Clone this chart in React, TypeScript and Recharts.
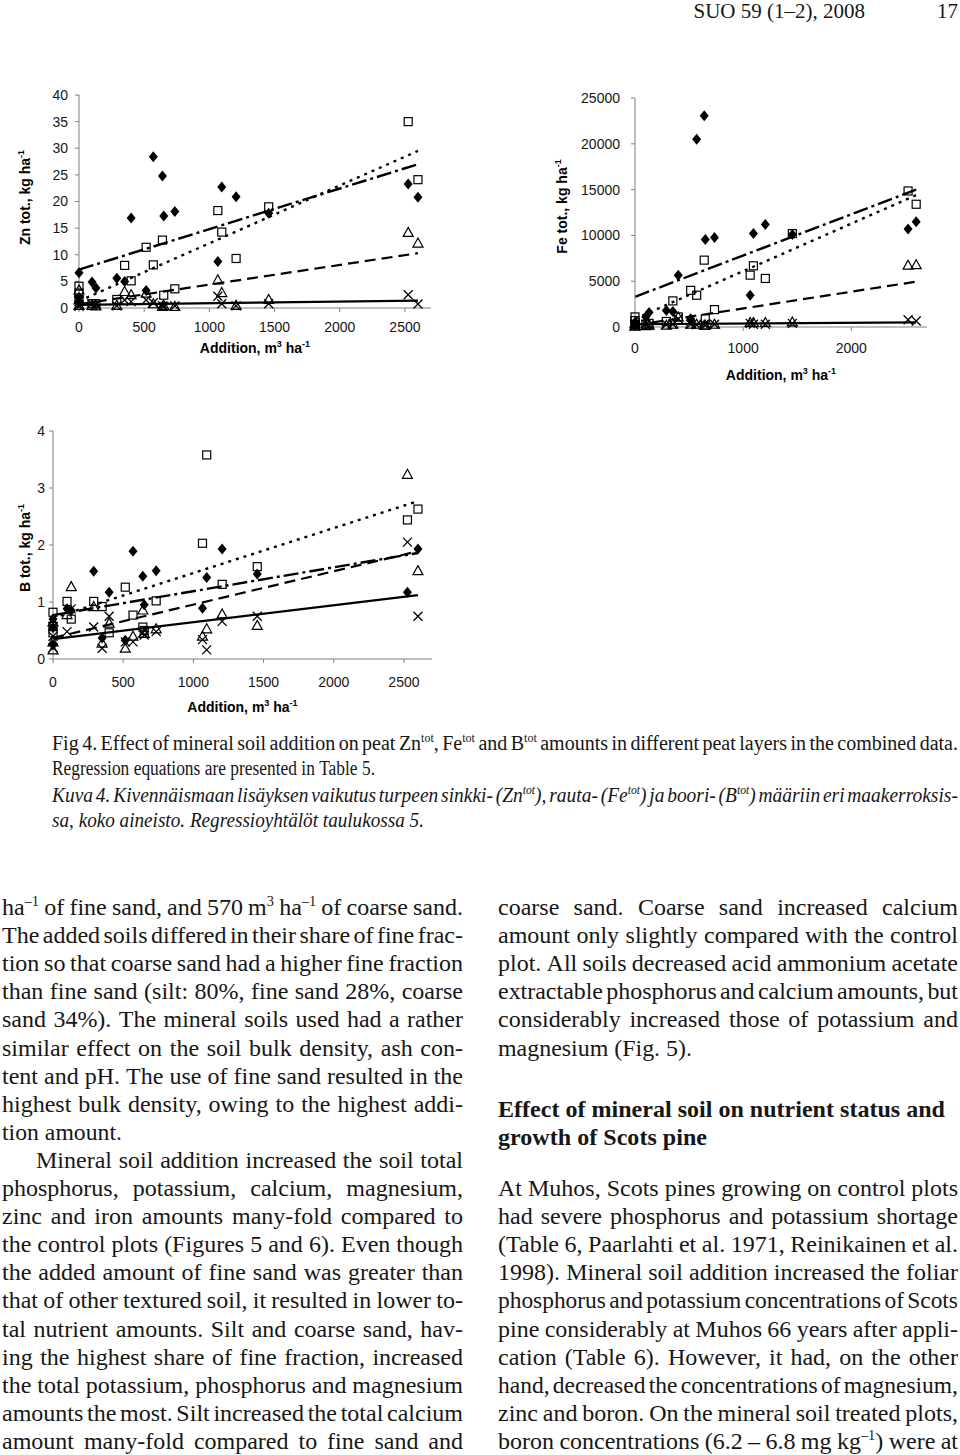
import React from "react";
import { ScatterChart, Scatter, XAxis, YAxis, ReferenceLine, Label } from "recharts";

// addition of mineral soil on each plot, m3/ha (three control plots at 0)
const sites = [0, 0, 0, 100, 130, 290, 350, 400, 515, 570, 640, 650, 735, 1065, 1095, 1205, 1455, 2525, 2600];

// Zn tot., kg/ha, one value per plot
const znDiamond = [6.6, 2.0, 1.0, 4.9, 3.75, 5.6, 5.0, 16.9, 3.3, 28.4, 24.8, 17.3, 18.1, 8.75, 22.7, 20.9, 17.8, 23.3, 20.8];
const znSquare = [4.1, 2.8, 1.6, 0.8, 0.8, 1.6, 8.0, 5.1, 11.4, 8.1, 12.75, 2.4, 3.6, 18.3, 14.25, 9.3, 19.0, 35.0, 24.1];
const znTriangle = [3.4, 1.5, 0.5, 0.5, 0.4, 0.5, 3.1, 2.5, 2.8, 0.8, 0.3, 0.5, 0.3, 5.3, 2.9, 0.5, 1.6, 14.2, 12.2];
const znCross = [1.2, 0.3, 0.6, 0.8, 0.6, 0.4, 1.5, 1.2, 1.5, 1.0, 0.4, 0.3, 0.4, 2.2, 0.8, 0.4, 0.8, 2.5, 0.75];

// Fe tot., kg/ha
const feDiamond = [500, 300, 200, 1100, 1570, 1800, 1700, 5660, 900, 20500, 23070, 9560, 9780, 3470, 10200, 11200, 10100, 10700, 11500];
const feSquare = [1100, 700, 300, 300, 400, 600, 2850, 1100, 4000, 3470, 7300, 900, 1900, 5660, 6680, 5300, 10200, 14850, 13400];
const feTriangle = [400, 200, 100, 150, 200, 200, 300, 1100, 300, 300, 200, 200, 300, 500, 500, 500, 550, 6750, 6800];
const feCross = [300, 200, 100, 300, 200, 300, 300, 900, 300, 250, 300, 200, 300, 400, 300, 300, 400, 800, 660];

// B tot., kg/ha
const bDiamond = [0.7, 0.55, 0.25, 0.88, 0.85, 1.54, 0.37, 1.17, 0.33, 1.89, 1.45, 0.95, 1.55, 0.89, 1.43, 1.93, 1.49, 1.17, 1.93];
const bSquare = [0.82, 0.57, 0.46, 1.01, 0.7, 1.01, 0.92, 0.46, 1.26, 0.77, 0.56, 0.5, 1.02, 2.03, 3.58, 1.31, 1.62, 2.44, 2.63];
const bTriangle = [0.16, 0.3, 0.65, 0.78, 1.27, 0.92, 0.28, 0.63, 0.19, 0.4, 0.86, 0.45, 0.53, 0.4, 0.53, 0.79, 0.59, 3.24, 1.55];
const bCross = [0.57, 0.4, 0.2, 0.48, 0.88, 0.56, 0.19, 0.75, 0.3, 0.3, 0.46, 0.42, 0.48, 0.34, 0.16, 0.66, 0.75, 2.05, 0.75];

// regression lines, [x, y] end points
const znFitDiamond = [[0, 7.2], [2600, 27.0]];
const znFitSquare = [[0, 1.3], [2600, 29.5]];
const znFitTriangle = [[0, 0.7], [2600, 10.3]];
const znFitCross = [[0, 0.6], [2600, 1.4]];
const feFitDiamond = [[0, 3300], [2600, 15000]];
const feFitSquare = [[0, 900], [2600, 14400]];
const feFitTriangle = [[0, 200], [2600, 4950]];
const feFitCross = [[0, 300], [2600, 500]];
const bFitDiamond = [[0, 0.77], [2600, 1.86]];
const bFitSquare = [[0, 0.72], [2600, 2.77]];
const bFitTriangle = [[0, 0.37], [2600, 1.89]];
const bFitCross = [[0, 0.35], [2600, 1.12]];

const xTicks = [0, 500, 1000, 1500, 2000, 2500];
const xTicksFe = [0, 1000, 2000];
const znTicks = [0, 5, 10, 15, 20, 25, 30, 35, 40];
const feTicks = [0, 5000, 10000, 15000, 20000, 25000];
const bTicks = [0, 1, 2, 3, 4];

const header = "SUO 59 (1–2), 2008";
const pageNo = "17";

const captionLines = [
  "Fig 4. Effect of mineral soil addition on peat Zn^{tot}, Fe^{tot} and B^{tot} amounts in different peat layers in the combined data.",
  "Regression equations are presented in Table 5.",
  "Kuva 4. Kivennäismaan lisäyksen vaikutus turpeen sinkki- (Zn^{tot}), rauta- (Fe^{tot}) ja boori- (B^{tot}) määriin eri maakerroksis-",
  "sa, koko aineisto. Regressioyhtälöt taulukossa 5.",
];

const leftLines = [
  "ha^{–1} of fine sand, and 570 m^{3} ha^{–1} of coarse sand.",
  "The added soils differed in their share of fine frac-",
  "tion so that coarse sand had a higher fine fraction",
  "than fine sand (silt: 80%, fine sand 28%, coarse",
  "sand 34%). The mineral soils used had a rather",
  "similar effect on the soil bulk density, ash con-",
  "tent and pH. The use of fine sand resulted in the",
  "highest bulk density, owing to the highest addi-",
  "tion amount.",
  "Mineral soil addition increased the soil total",
  "phosphorus, potassium, calcium, magnesium,",
  "zinc and iron amounts many-fold compared to",
  "the control plots (Figures 5 and 6). Even though",
  "the added amount of fine sand was greater than",
  "that of other textured soil, it resulted in lower to-",
  "tal nutrient amounts. Silt and coarse sand, hav-",
  "ing the highest share of fine fraction, increased",
  "the total potassium, phosphorus and magnesium",
  "amounts the most. Silt increased the total calcium",
  "amount many-fold compared to fine sand and",
];

const rightLinesTop = [
  "coarse sand. Coarse sand increased calcium",
  "amount only slightly compared with the control",
  "plot. All soils decreased acid ammonium acetate",
  "extractable phosphorus and calcium amounts, but",
  "considerably increased those of potassium and",
  "magnesium (Fig. 5).",
];

const headingLines = ["Effect of mineral soil on nutrient status and", "growth of Scots pine"];

const rightLinesBottom = [
  "At Muhos, Scots pines growing on control plots",
  "had severe phosphorus and potassium shortage",
  "(Table 6, Paarlahti et al. 1971, Reinikainen et al.",
  "1998). Mineral soil addition increased the foliar",
  "phosphorus and potassium concentrations of Scots",
  "pine considerably at Muhos 66 years after appli-",
  "cation (Table 6). However, it had, on the other",
  "hand, decreased the concentrations of magnesium,",
  "zinc and boron. On the mineral soil treated plots,",
  "boron concentrations (6.2 – 6.8 mg kg^{–1}) were at",
];

const SERIF = '"Liberation Serif", "Times New Roman", serif';
const SANS = '"Liberation Sans", Arial, sans-serif';
const INK = "#161616";

// ---------- text helpers ----------
const ctx = typeof document !== "undefined" ? document.createElement("canvas").getContext("2d") : null;

function textWidth(t: string, size: number, weight: string, italic: boolean) {
  if (!ctx) return t.length * size * 0.45;
  ctx.font = `${italic ? "italic " : ""}${weight} ${size}px "Liberation Serif"`;
  return ctx.measureText(t).width;
}

function splitSup(word: string) {
  const out: { t: string; sup: boolean }[] = [];
  const re = /\^\{([^}]*)\}/g;
  let last = 0;
  let m: RegExpExecArray | null;
  while ((m = re.exec(word))) {
    if (m.index > last) out.push({ t: word.slice(last, m.index), sup: false });
    out.push({ t: m[1], sup: true });
    last = re.lastIndex;
  }
  if (last < word.length) out.push({ t: word.slice(last), sup: false });
  return out;
}

const SUP = 0.6;
const RISE = 0.38;

function wordWidth(w: string, size: number, weight: string, italic: boolean) {
  return splitSup(w).reduce((a, s) => a + textWidth(s.t, s.sup ? size * SUP : size, weight, italic), 0);
}

function TextLine({ x, y, width, text, size, weight = "normal", italic = false, justify = true }: any) {
  const words: string[] = text.split(" ");
  const ws = words.map((w) => wordWidth(w, size, weight, italic));
  const total = ws.reduce((a, b) => a + b, 0);
  const space = textWidth(" ", size, weight, italic);
  let s = 1;
  let gap = space;
  if (justify && words.length > 1) {
    gap = (width - total) / (words.length - 1);
    const minGap = space * 0.55;
    if (gap < minGap) {
      gap = minGap;
      s = (width - minGap * (words.length - 1)) / total;
    }
  } else {
    const natural = total + space * (words.length - 1);
    s = width / natural;
    gap = space * s;
  }
  let cur = x;
  return (
    <g>
      {words.map((w, i) => {
        const px = cur;
        cur += ws[i] * s + gap;
        let raised = false;
        return (
          <text
            key={i}
            transform={`translate(${px.toFixed(2)} ${y}) scale(${s.toFixed(4)} 1)`}
            fontSize={size}
            fontWeight={weight}
            fontStyle={italic ? "italic" : "normal"}
            fontFamily={SERIF}
            fill={INK}
          >
            {splitSup(w).map((sg, j) => {
              if (sg.sup) {
                raised = true;
                return (
                  <tspan key={j} dy={-size * RISE} fontSize={size * SUP}>
                    {sg.t}
                  </tspan>
                );
              }
              const dy = raised ? size * RISE : 0;
              raised = false;
              return (
                <tspan key={j} dy={dy}>
                  {sg.t}
                </tspan>
              );
            })}
          </text>
        );
      })}
    </g>
  );
}

// ---------- markers ----------
const Diamond = (p: any) => (
  <path d={`M${p.cx},${p.cy - 5.5} L${p.cx + 4.5},${p.cy} L${p.cx},${p.cy + 5.5} L${p.cx - 4.5},${p.cy} Z`} fill="#000" />
);
const Square = (p: any) => (
  <rect x={p.cx - 4} y={p.cy - 4} width={8} height={8} fill="none" stroke="#000" strokeWidth={1.2} />
);
const Triangle = (p: any) => (
  <path d={`M${p.cx},${p.cy - 5} L${p.cx + 5},${p.cy + 4} L${p.cx - 5},${p.cy + 4} Z`} fill="none" stroke="#000" strokeWidth={1.2} />
);
const Cross = (p: any) => (
  <path d={`M${p.cx - 4.5},${p.cy - 4.5} L${p.cx + 4.5},${p.cy + 4.5} M${p.cx - 4.5},${p.cy + 4.5} L${p.cx + 4.5},${p.cy - 4.5}`} stroke="#000" strokeWidth={1.3} />
);

const pts = (ys: number[]) => sites.map((x, i) => ({ x, y: ys[i] }));
const seg = (f: number[][]) => [
  { x: f[0][0], y: f[0][1] },
  { x: f[1][0], y: f[1][1] },
];

const DASH_DOT = "15 4 3 4";
const DOTTED = "3 5";
const DASHED = "11 6";

function Panel(props: any) {
  const { left, top, width, height, margin, yAxisWidth, yDomain, yTicks, xT, xTickMargin, yTickMargin, data, fits, yTitle, yTitleX, yTitleShift, xTitleY } = props;
  const plotTop = margin.top;
  const plotH = height - margin.top - margin.bottom - 30;
  const plotL = margin.left + yAxisWidth;
  const plotR = width - margin.right;
  const axisStroke = "#808080";
  const tick = { fill: INK, fontSize: 14, fontFamily: SANS };
  return (
    <div style={{ position: "absolute", left, top }}>
      <ScatterChart width={width} height={height} margin={margin}>
        <XAxis
          type="number"
          dataKey="x"
          domain={[0, 2700]}
          ticks={xT}
          interval={0}
          height={30}
          tick={tick}
          tickSize={4}
          tickMargin={xTickMargin}
          axisLine={{ stroke: axisStroke }}
          tickLine={{ stroke: axisStroke }}
        >
          <Label
            content={() => (
              <text x={(plotL + plotR) / 2} y={xTitleY} textAnchor="middle" fontFamily={SANS} fontWeight="bold" fontSize={14} fill="#000">
                Addition, m
                <tspan dy={-6} fontSize={9}>3</tspan>
                <tspan dy={6}> ha</tspan>
                <tspan dy={-6} fontSize={9}>-1</tspan>
              </text>
            )}
          />
        </XAxis>
        <YAxis
          type="number"
          dataKey="y"
          domain={yDomain}
          ticks={yTicks}
          interval={0}
          width={yAxisWidth}
          tick={tick}
          tickSize={4}
          tickMargin={yTickMargin}
          axisLine={{ stroke: axisStroke }}
          tickLine={{ stroke: axisStroke }}
        >
          <Label
            content={() => {
              const cy = plotTop + plotH / 2 + yTitleShift;
              return (
                <text transform={`rotate(-90 ${yTitleX} ${cy})`} x={yTitleX} y={cy} textAnchor="middle" fontFamily={SANS} fontWeight="bold" fontSize={14} fill="#000">
                  {yTitle}
                  <tspan dy={-6} fontSize={9}>-1</tspan>
                </text>
              );
            }}
          />
        </YAxis>
        <ReferenceLine segment={seg(fits[0])} stroke="#000" strokeWidth={2.4} strokeDasharray={DASH_DOT} ifOverflow="visible" />
        <ReferenceLine segment={seg(fits[1])} stroke="#000" strokeWidth={2.4} strokeDasharray={DOTTED} ifOverflow="visible" />
        <ReferenceLine segment={seg(fits[2])} stroke="#000" strokeWidth={2.2} strokeDasharray={DASHED} ifOverflow="visible" />
        <ReferenceLine segment={seg(fits[3])} stroke="#000" strokeWidth={2.2} ifOverflow="visible" />
        <Scatter data={pts(data[3])} shape={Cross} isAnimationActive={false} />
        <Scatter data={pts(data[2])} shape={Triangle} isAnimationActive={false} />
        <Scatter data={pts(data[1])} shape={Square} isAnimationActive={false} />
        <Scatter data={pts(data[0])} shape={Diamond} isAnimationActive={false} />
      </ScatterChart>
    </div>
  );
}

const LH = 28.1;
const BODY = 24;

export default function App() {
  return (
    <div style={{ position: "absolute", left: 0, top: 0, width: 960, height: 1455, background: "#fff", overflow: "hidden" }}>
      <svg width={960} height={1455} style={{ position: "absolute", left: 0, top: 0 }}>
        <text x={865} y={18} textAnchor="end" fontFamily={SERIF} fontSize={21} fill={INK}>
          {header}
        </text>
        <text x={958} y={18} textAnchor="end" fontFamily={SERIF} fontSize={21} fill={INK}>
          {pageNo}
        </text>

        <TextLine x={52} y={750} width={906} size={20} text={captionLines[0]} />
        <TextLine x={52} y={775} width={323} size={20} text={captionLines[1]} justify={false} />
        <TextLine x={52} y={802} width={906} size={20} italic text={captionLines[2]} />
        <TextLine x={52} y={827} width={372} size={20} italic text={captionLines[3]} justify={false} />

        {leftLines.map((t, i) => (
          <TextLine
            key={"l" + i}
            x={i === 9 ? 36 : 2}
            y={915 + LH * i}
            width={i === 8 ? 120 : i === 9 ? 427 : 461}
            size={BODY}
            text={t}
            justify={i !== 8}
          />
        ))}
        {rightLinesTop.map((t, i) => (
          <TextLine key={"r" + i} x={498} y={915 + LH * i} width={i === 5 ? 194 : 460} size={BODY} text={t} justify={i !== 5} />
        ))}
        <TextLine x={498} y={1117} width={447} size={BODY} weight="bold" text={headingLines[0]} justify={false} />
        <TextLine x={498} y={1145} width={209} size={BODY} weight="bold" text={headingLines[1]} justify={false} />
        {rightLinesBottom.map((t, i) => (
          <TextLine key={"rb" + i} x={498} y={915 + LH * (i + 10)} width={460} size={BODY} text={t} />
        ))}
      </svg>

      <Panel
        left={0}
        top={80}
        width={445}
        height={280}
        margin={{ top: 15, right: 14, bottom: 22, left: 0 }}
        yAxisWidth={79}
        yDomain={[0, 40]}
        yTicks={znTicks}
        xT={xTicks}
        xTickMargin={10}
        yTickMargin={7}
        data={[znDiamond, znSquare, znTriangle, znCross]}
        fits={[znFitDiamond, znFitSquare, znFitTriangle, znFitCross]}
        yTitle="Zn tot., kg ha"
        yTitleX={30}
        yTitleShift={-4}
        xTitleY={273}
      />
      <Panel
        left={520}
        top={80}
        width={420}
        height={310}
        margin={{ top: 18, right: 13, bottom: 33, left: 0 }}
        yAxisWidth={115}
        yDomain={[0, 25000]}
        yTicks={feTicks}
        xT={xTicksFe}
        xTickMargin={12}
        yTickMargin={11}
        data={[feDiamond, feSquare, feTriangle, feCross]}
        fits={[feFitDiamond, feFitSquare, feFitTriangle, feFitCross]}
        yTitle="Fe tot., kg ha"
        yTitleX={47}
        yTitleShift={-6}
        xTitleY={300}
      />
      <Panel
        left={0}
        top={420}
        width={445}
        height={300}
        margin={{ top: 11, right: 13, bottom: 31, left: 0 }}
        yAxisWidth={53}
        yDomain={[0, 4]}
        yTicks={bTicks}
        xT={xTicks}
        xTickMargin={14}
        yTickMargin={4}
        data={[bDiamond, bSquare, bTriangle, bCross]}
        fits={[bFitDiamond, bFitSquare, bFitTriangle, bFitCross]}
        yTitle="B tot., kg ha"
        yTitleX={30}
        yTitleShift={3}
        xTitleY={292}
      />
    </div>
  );
}
